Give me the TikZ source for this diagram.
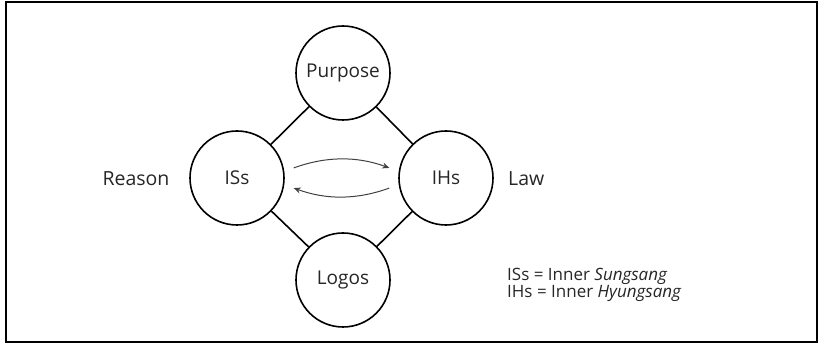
\documentclass[tikz,border=0pt]{standalone}
\usepackage{fontspec}
\setmainfont{Open Sans}
\usetikzlibrary{arrows.meta}
\begin{document}
\begin{tikzpicture}[x=1pt,y=1pt,
  circ/.style={circle,draw=black,line width=1.6pt,minimum size=94pt,inner sep=0pt,font=\fontsize{19}{19}\selectfont,text=black!85},
  link/.style={line width=1.6pt,draw=black},
  arr/.style={draw=black!75,line width=1pt,-{Stealth[length=7pt,width=6pt]}},
  lbl/.style={font=\fontsize{19.5}{19.5}\selectfont,text=black!85,inner sep=0pt},
  leg/.style={font=\fontsize{17}{17}\selectfont,text=black!85,inner sep=0pt,align=left}]
\useasboundingbox (0,0) rectangle (818,344);
\draw[line width=2pt] (6,2) rectangle (817,341.5);
\node[circ] (P) at (343,271) {Purpose};
\node[circ] (S) at (237,166) {ISs};
\node[circ] (H) at (446,166) {IHs};
\node[circ] (L) at (343,64) {Logos};
\draw[link] (P) -- (S);
\draw[link] (P) -- (H);
\draw[link] (L) -- (S);
\draw[link] (L) -- (H);
\draw[arr,shorten <=10pt,shorten >=10pt] (S.8) to[bend left=20] (H.172);
\draw[arr,shorten <=10pt,shorten >=10pt] (H.188) to[bend left=20] (S.-8);
\node[lbl] (R) at (136,165) {Reason};
\node[lbl,anchor=west] (W) at (508,165) {Law};
\node[leg,anchor=north west] (G) at (507,76) {ISs = Inner \textit{Sungsang}\\IHs = Inner \textit{Hyungsang}};
\end{tikzpicture}
\end{document}
